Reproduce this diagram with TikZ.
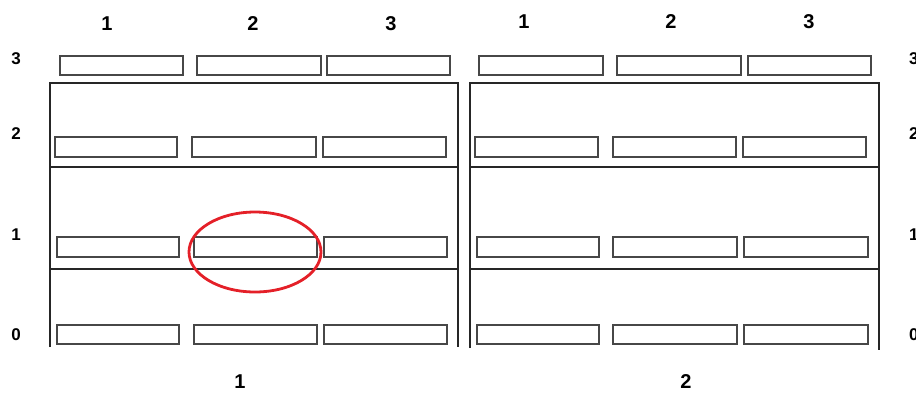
\documentclass[tikz,border=0pt]{standalone}
\usepackage{fontspec}
\setmainfont{Liberation Sans}
\begin{document}
\begin{tikzpicture}[x=1pt,y=-1pt,
  slot/.style={draw=black!72, line width=2.1pt, fill=white},
  frame/.style={draw=black!85, line width=2pt},
  lab/.style={font=\bfseries\fontsize{20}{20}\selectfont, inner sep=0pt},
  rowlab/.style={font=\bfseries\fontsize{17}{17}\selectfont, inner sep=0pt},
  hilite/.style={draw={rgb,255:red,228;green,32;blue,40}, line width=2.8pt}]
\useasboundingbox (0,0) rectangle (916,392);
\clip (0,0) rectangle (916,392);
% frames
\draw[frame] (50,347) -- (50,83) -- (458,83) -- (458,347);
\draw[frame] (50,167) -- (458,167);
\draw[frame] (50,269) -- (458,269);
\draw[frame] (470,348) -- (470,83) -- (879,83) -- (879,350);
\draw[frame] (470,167) -- (879,167);
\draw[frame] (470,269) -- (879,269);
% slots, row 3
\foreach \a/\b in {60/183,197/321,327/450,479/603,617/741,748/871}
  \draw[slot] (\a,56) rectangle (\b,75);
% row 2
\foreach \a/\b in {55/177,192/316,323/446,475/598,613/736,743/866}
  \draw[slot] (\a,137) rectangle (\b,157);
% row 1
\foreach \a/\b in {57/179,194/317,324/447,477/599,613/737,744/868}
  \draw[slot] (\a,237) rectangle (\b,257);
% row 0
\foreach \a/\b in {57/179,194/317,324/447,477/599,613/737,744/868}
  \draw[slot] (\a,325) rectangle (\b,344);
% highlight
\draw[hilite] (255,252) ellipse [x radius=66, y radius=40];
% column labels
\node[lab] (c11) at (107,24) {1};
\node[lab] (c12) at (253,24) {2};
\node[lab] (c13) at (391,24) {3};
\node[lab] (c21) at (524,22) {1};
\node[lab] (c22) at (671,22) {2};
\node[lab] (c23) at (809,22) {3};
% row labels
\node[rowlab] (r3) at (16,59) {3};
\node[rowlab] (r2) at (16,134) {2};
\node[rowlab] (r1) at (16,235) {1};
\node[rowlab] (r0) at (16,335) {0};
\node[rowlab, anchor=west] (s3) at (909,59) {3};
\node[rowlab, anchor=west] (s2) at (909,134) {2};
\node[rowlab, anchor=west] (s1) at (909,235) {1};
\node[rowlab, anchor=west] (s0) at (909,335) {0};
% block labels
\node[lab] (b1) at (240,382) {1};
\node[lab] (b2) at (686,382) {2};
\end{tikzpicture}
\end{document}
